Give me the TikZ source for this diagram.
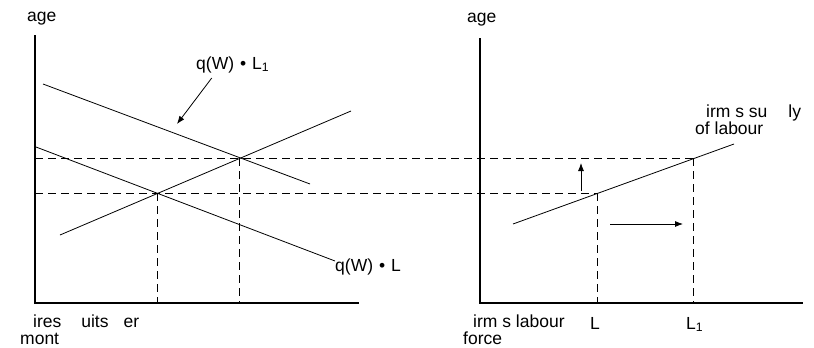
\documentclass[tikz,border=0pt]{standalone}
\usepackage{fontspec}
\setmainfont{Liberation Sans}
\usetikzlibrary{arrows.meta}
\begin{document}
\begin{tikzpicture}[x=1pt, y=-1pt, >={Latex[length=8pt,width=6pt]},
  every node/.style={font=\fontsize{17.5}{17.5}\selectfont, inner sep=0pt},
  axis/.style={line width=1.6pt},
  curve/.style={line width=0.8pt},
  guide/.style={dash pattern=on 8pt off 5pt, line width=0.7pt}]
\useasboundingbox (0,0) rectangle (814,348);

% left panel: hires/quits
\coordinate (ltop) at (35,35);
\coordinate (lo) at (35,303);
\coordinate (lend) at (359,303);
\draw[axis] (ltop) -- (lo) -- (lend);
\coordinate (dua) at (43,84);
\coordinate (dub) at (310,184);
\coordinate (dla) at (36,147);
\coordinate (dlb) at (335,261);
\coordinate (sa) at (60,235);
\coordinate (sb) at (351,111);
\coordinate (eup) at (239,158);
\coordinate (elow) at (157,193);
\draw[curve] (dua) -- (dub);
\draw[curve] (dla) -- (dlb);
\draw[curve] (sa) -- (sb);

% right panel: firm's supply
\coordinate (rtop) at (480,38);
\coordinate (ro) at (480,303);
\coordinate (rend) at (803,303);
\draw[axis] (rtop) -- (ro) -- (rend);
\coordinate (fa) at (513,224);
\coordinate (fb) at (734,144);
\coordinate (qlow) at (597,193);
\coordinate (qup) at (693,158);
\draw[curve] (fa) -- (fb);

% dashed guides
\draw[guide] (ltop |- eup) -- (qup);
\draw[guide] (ltop |- elow) -- (qlow);
\draw[guide] (elow) -- (elow |- lo);
\draw[guide] (eup) -- (eup |- lo);
\draw[guide] (qlow) -- (qlow |- ro);
\draw[guide] (qup) -- (qup |- ro);

% labels
\node[anchor=base west] (wl) at (27,21) {age};
\node[anchor=base west] (wr) at (467,22) {age};
\node[anchor=base west] (dul) at (196,69) {q(W)\hspace{6pt}\textbullet\hspace{6pt}L\textsubscript{1}};
\node[anchor=base west] (dll) at (335,271) {q(W)\hspace{6pt}\textbullet\hspace{6pt}L};
\node[anchor=south west, align=left] (hq) at (20,345) {\hspace{13pt}ires\hspace{20pt}uits\hspace{15pt}er\\mont};
\node[anchor=south west, align=left] (fl) at (463,345) {\hspace{10pt}irm s labour\\force};
\node[anchor=south west, align=left] (fs) at (695,135) {\hspace{11pt}irm s su\hspace{21pt}ly\\of labour};
\node[anchor=base west] (ll) at (590,329) {L};
\node[anchor=base west] (ll1) at (686,329) {L\textsubscript{1}};

% shift arrows
\coordinate (tipu) at (177,124);
\draw[->, curve] ([xshift=-21pt, yshift=-9pt]dul.base) -- (tipu);
\coordinate (upa) at (581,191);
\coordinate (upb) at (581,163);
\draw[->, curve] (upa) -- (upb);
\coordinate (rta) at (610,224);
\coordinate (rtb) at (683,224);
\draw[->, curve] (rta) -- (rtb);
\end{tikzpicture}
\end{document}
